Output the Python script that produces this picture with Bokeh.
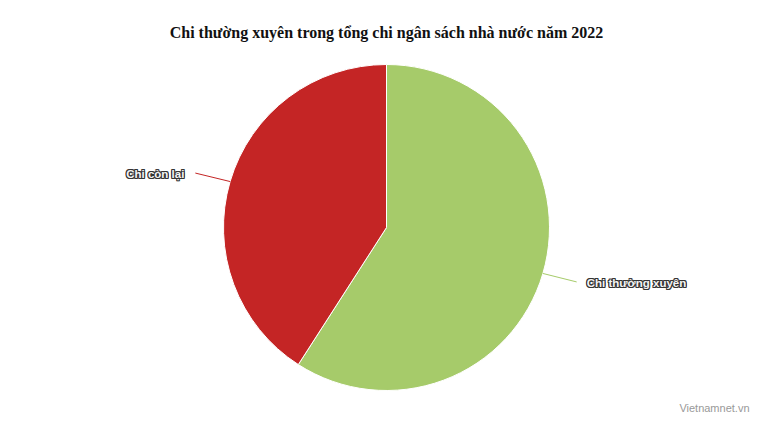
import math
from bokeh.plotting import figure
from bokeh.models import ColumnDataSource, Range1d
from bokeh.core.properties import value
from bokeh.embed import file_html
from bokeh.resources import INLINE

# ---- data ----
title_text = "Chi thường xuyên trong tổng chi ngân sách nhà nước năm 2022"
categories = ["Chi thường xuyên", "Chi còn lại"]
shares = [59.1, 40.9]
colors = ["#a6cb6a", "#c42525"]
credit = "Vietnamnet.vn"

W, H = 758, 415
p = figure(width=W, height=H, output_backend="svg", toolbar_location=None,
           x_range=Range1d(0, W), y_range=Range1d(0, H), min_border=0)
p.axis.visible = False
p.grid.visible = False
p.outline_line_color = None
p.background_fill_color = "white"
p.border_fill_color = "white"

cx, cy, r = 386, 188, 163
total = sum(shares)
starts, ends, mids = [], [], []
acc = 0.0
for s in shares:
    a0 = math.pi / 2 - acc / total * 2 * math.pi
    acc += s
    a1 = math.pi / 2 - acc / total * 2 * math.pi
    starts.append(a0)
    ends.append(a1)
    mids.append((a0 + a1) / 2)

src = ColumnDataSource(dict(start=starts, end=ends, color=colors, cat=categories))
p.wedge(x=cx, y=cy, radius=r, start_angle="start", end_angle="end", direction="clock",
        fill_color="color", line_color="white", line_width=1, source=src)

# connectors and labels (white-filled letters with dark edge, as in the reference)
dist = 30
offsets = [(-1, 0), (1, 0), (0, -1), (0, 1), (-1, -1), (1, 1), (-1, 1), (1, -1)]
for cat, m, col in zip(categories, mids, colors):
    ex, ey = cx + r * math.cos(m), cy + r * math.sin(m)
    right = math.cos(m) >= 0
    lx = cx + (r + dist) * math.cos(m) + (5 if right else -6)
    ly = cy + (r + dist) * math.sin(m)
    p.line([ex, lx], [ey, ly], line_color=col, line_width=1)
    tx = lx + (10 if right else -11)
    ty = ly - 1
    align = "left" if right else "right"
    for dx, dy in offsets:
        p.text(x=[tx + dx], y=[ty + dy], text=[cat],
               text_font=value("Liberation Sans"), text_font_size="11.5px", text_font_style="bold",
               text_color="#333333", text_align=align, text_baseline="middle")
    p.text(x=[tx], y=[ty], text=[cat],
           text_font=value("Liberation Sans"), text_font_size="11.5px", text_font_style="bold",
           text_color="#f4f4f4", text_align=align, text_baseline="middle")

# title
p.text(x=[386], y=[H - 32], text=[title_text], text_font=value("Liberation Serif"),
       text_font_size="16px", text_font_style="bold", text_color="#111111",
       text_align="center", text_baseline="middle")

# credit
p.text(x=[749], y=[8], text=[credit], text_font=value("Liberation Sans"),
       text_font_size="11px", text_color="#999999", text_align="right", text_baseline="middle")

open("out.html", "w").write(file_html(p, INLINE))
